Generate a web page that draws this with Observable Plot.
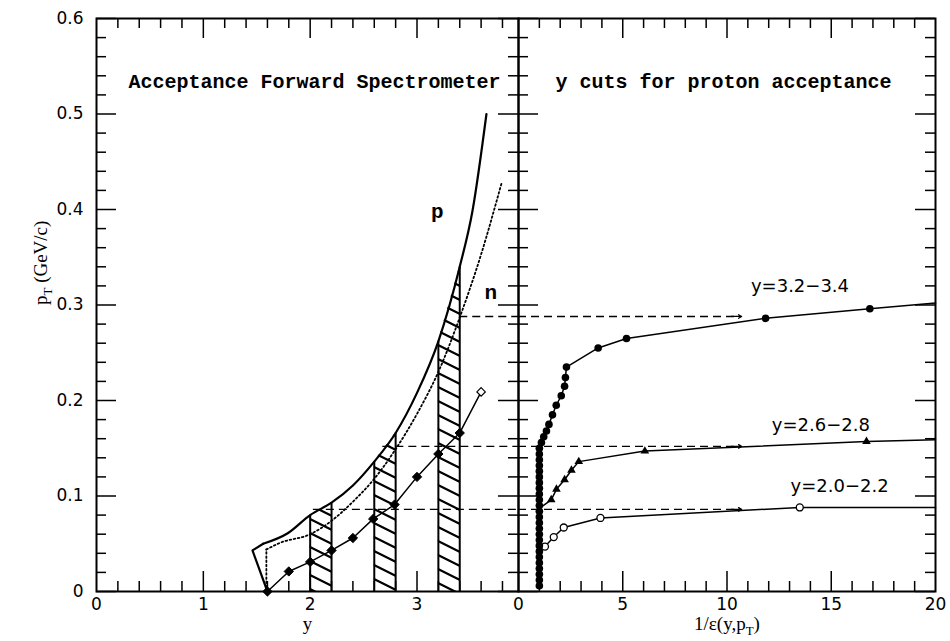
<!DOCTYPE html>
<html><head><meta charset="utf-8">
<script src="https://cdn.jsdelivr.net/npm/d3@7"></script>
<script src="https://cdn.jsdelivr.net/npm/@observablehq/plot@0.6"></script>
<style>
body{margin:0;background:#fff;}
#wrap{position:relative;width:950px;height:641px;overflow:hidden;background:#fff;}
#wrap svg{position:absolute;top:0;overflow:visible;}
</style></head><body><div id="wrap"></div>
<script>
// ---------- DATA ----------
// Left panel: proton acceptance boundary (solid), neutron (dotted), lower limit (diamonds)
const pEdgeY   = [1.60, 1.46, 1.56];
const pEdgePt  = [0.000, 0.043, 0.050];
const pCurveY  = [1.56, 1.79, 2.00, 2.20, 2.40, 2.60, 2.80, 3.00, 3.20, 3.40, 3.52, 3.65];
const pCurvePt = [0.050, 0.061, 0.080, 0.093, 0.111, 0.136, 0.166, 0.208, 0.262, 0.340, 0.399, 0.500];
const nEdgeY   = [1.59, 1.59];
const nEdgePt  = [0.000, 0.044];
const nCurveY  = [1.59, 1.72, 2.00, 2.20, 2.40, 2.60, 2.80, 3.00, 3.20, 3.40, 3.60, 3.79];
const nCurvePt = [0.044, 0.051, 0.060, 0.074, 0.094, 0.118, 0.149, 0.186, 0.230, 0.287, 0.353, 0.427];
const lowY  = [1.60, 1.80, 2.00, 2.20, 2.40, 2.59, 2.79, 3.00, 3.20, 3.40, 3.60];
const lowPt = [0.000, 0.021, 0.031, 0.043, 0.056, 0.076, 0.091, 0.120, 0.144, 0.166, 0.209];
// hatched y-cut bands
const bandLo = [2.0, 2.6, 3.2];
const bandHi = [2.2, 2.8, 3.4];
const bandTopLo = [0.080, 0.136, 0.262];
const bandTopHi = [0.093, 0.166, 0.340];
// dashed pT cut lines
const cutLevels = [0.288, 0.152, 0.086];
const cutStart = [3.40, 2.68, 2.03];
const cutArrowEnd = 10.7;
// curve labels
const curveNames = ["p", "n"];
const curveNameY = [3.19, 3.69];
const curveNamePt = [0.398, 0.313];
// Right panel series: 1/eps vs pT
const inv32 = [1,1,1,1,1,1,1,1,1,1,1,1,1,1,1,1,1,1,1,1,1,1,1,1,1,1.10,1.21,1.34,1.46,1.63,1.81,2.05,2.21,2.25,2.30,3.82,5.18,11.85,16.85,20];
const pt32  = [0.006,0.012,0.018,0.024,0.030,0.036,0.042,0.048,0.054,0.060,0.066,0.072,0.078,0.084,0.090,0.096,0.102,0.108,0.114,0.120,0.126,0.132,0.138,0.144,0.150,0.156,0.162,0.168,0.175,0.185,0.195,0.205,0.215,0.224,0.235,0.255,0.265,0.286,0.296,0.302];
const inv26 = [1.0, 1.57, 1.82, 2.21, 2.54, 2.89, 6.06, 16.69, 20];
const pt26  = [0.087, 0.096, 0.107, 0.117, 0.127, 0.136, 0.147, 0.157, 0.159];
const inv20 = [1.0, 1.27, 1.69, 2.17, 3.93, 13.49, 20];
const pt20  = [0.045, 0.047, 0.057, 0.067, 0.077, 0.088, 0.088];
const seriesLabels = ["y=3.2\u22123.4", "y=2.6\u22122.8", "y=2.0\u22122.2"];
const seriesLabelX = [13.5, 14.5, 15.4];
const seriesLabelPt = [0.320, 0.174, 0.110];
// axes
const leftXTicks = [0, 1, 2, 3];
const rightXTicks = [0, 5, 10, 15, 20];
const yTicks = [0, 0.1, 0.2, 0.3, 0.4, 0.5, 0.6];
const leftTitle = "Acceptance Forward Spectrometer";
const rightTitle = "y cuts for proton acceptance";

// ---------- LAYOUT ----------
const H = 641, mT = 18, mB = 50;
const innerH = H - mT - mB;
const W1 = 520, mL1 = 96, mR1 = 2, innerW1 = W1 - mL1 - mR1;
const W2 = 434, mL2 = 2, mR2 = 15, innerW2 = W2 - mL2 - mR2;
const X1MAX = 3.95, X2MAX = 20, YMAX = 0.6;
const tMin = 10, tMaj = 20;
const SANS = "DejaVu Sans", SERIF = "Liberation Serif", MONO = "Liberation Mono";

const yMinor = d3.range(1, 30).filter(i => i % 5).map(i => i / 50);
const xMinorL = d3.range(1, 20).filter(i => i % 5).map(i => i / 5);
const xMajorL = [1, 2, 3];
const xMinorR = d3.range(1, 20).filter(i => i % 5);
const xMajorR = [5, 10, 15];

const zip = (xs, ys) => xs.map((x, i) => ({x, y: ys[i]}));
const pEdgeRows = zip(pEdgeY, pEdgePt), pRows = zip(pCurveY, pCurvePt);
const nEdgeRows = zip(nEdgeY, nEdgePt), nRows = zip(nCurveY, nCurvePt), lowRows = zip(lowY, lowPt);
const bandRows = bandLo.flatMap((lo, i) => [{b: i, x: lo, top: bandTopLo[i]}, {b: i, x: bandHi[i], top: bandTopHi[i]}]);
const s32 = zip(inv32, pt32), s26 = zip(inv26, pt26), s20 = zip(inv20, pt20);

function hatchDefs() {
  const ns = "http://www.w3.org/2000/svg";
  const defs = document.createElementNS(ns, "defs");
  const pat = document.createElementNS(ns, "pattern");
  pat.setAttribute("id", "hatch");
  pat.setAttribute("patternUnits", "userSpaceOnUse");
  pat.setAttribute("width", 28); pat.setAttribute("height", 14);
  const path = document.createElementNS(ns, "path");
  path.setAttribute("d", "M-28,-14L56,28M-28,0L28,28M0,-14L56,14");
  path.setAttribute("stroke", "#000"); path.setAttribute("stroke-width", "2.2"); path.setAttribute("fill", "none");
  pat.appendChild(path); defs.appendChild(pat);
  return defs;
}

// inward frame ticks drawn as short rules (tick lengths converted from px to data units)
function frameTicks(xMinor, xMajor, innerW, xMax) {
  const ky = YMAX / innerH, kx = xMax / innerW;
  const vx = [...xMinor.map(x => ({x, len: tMin * ky})), ...xMajor.map(x => ({x, len: tMaj * ky}))];
  const vRows = vx.flatMap(d => [{x: d.x, y1: 0, y2: d.len}, {x: d.x, y1: YMAX, y2: YMAX - d.len}]);
  const hy = [...yMinor.map(y => ({y, len: tMin * kx})), ...yTicks.map(y => ({y, len: tMaj * kx}))];
  const hRows = hy.flatMap(d => [{y: d.y, x1: 0, x2: d.len}, {y: d.y, x1: xMax, x2: xMax - d.len}]);
  return [
    Plot.ruleX(vRows, {x: "x", y1: "y1", y2: "y2", stroke: "#000", strokeWidth: 1.5}),
    Plot.ruleY(hRows, {y: "y", x1: "x1", x2: "x2", stroke: "#000", strokeWidth: 1.5}),
    Plot.frame({stroke: "#000", strokeWidth: 2})
  ];
}

const common = {
  height: H, marginTop: mT, marginBottom: mB,
  style: {background: "transparent", overflow: "visible", fontFamily: SANS, fontSize: "17px", color: "#000"}
};

const left = Plot.plot({
  ...common, width: W1, marginLeft: mL1, marginRight: mR1,
  x: {domain: [0, X1MAX], ticks: leftXTicks, tickSize: 0, tickPadding: 6, label: null, tickFormat: d => String(d)},
  y: {domain: [0, YMAX], ticks: yTicks, tickSize: 0, tickPadding: 13, label: null,
      tickFormat: d => d === 0 ? "0" : d.toFixed(1)},
  marks: [
    hatchDefs,
    Plot.areaY(bandRows, {x: "x", y1: 0, y2: "top", z: "b", fill: "url(#hatch)"}),
    Plot.ruleX(bandRows, {x: "x", y1: 0, y2: "top", strokeWidth: 2}),
    Plot.ruleY(cutLevels, {y: d => d, x1: (d, i) => cutStart[i], x2: () => X1MAX, strokeDasharray: "8,5", strokeWidth: 1.4}),
    Plot.line(nEdgeRows, {x: "x", y: "y", strokeWidth: 1.8, strokeDasharray: "1.6,2.6"}),
    Plot.line(nRows, {x: "x", y: "y", strokeWidth: 1.8, strokeDasharray: "1.6,2.6", curve: "monotone-x"}),
    Plot.line(pEdgeRows, {x: "x", y: "y", strokeWidth: 2.2}),
    Plot.line(pRows, {x: "x", y: "y", strokeWidth: 2.2, curve: "monotone-x"}),
    Plot.line(lowRows, {x: "x", y: "y", strokeWidth: 1.5}),
    Plot.dot(lowRows.slice(0, -1), {x: "x", y: "y", symbol: "diamond2", r: 4.2, fill: "#000", stroke: "#000", strokeWidth: 1}),
    Plot.dot(lowRows.slice(-1), {x: "x", y: "y", symbol: "diamond2", r: 3.8, fill: "#fff", stroke: "#000", strokeWidth: 1.2}),
    Plot.text(curveNames, {x: (d, i) => curveNameY[i], y: (d, i) => curveNamePt[i], text: d => d,
      fontFamily: MONO, fontWeight: "bold", fontSize: 21}),
    ...frameTicks(xMinorL, xMajorL, innerW1, X1MAX),
    Plot.text([leftTitle], {frameAnchor: "top", dx: 7, dy: 55, text: d => d, fontFamily: MONO, fontWeight: "bold", fontSize: 20}),
    Plot.text(["p_T (GeV/c)"], {frameAnchor: "left", dx: -56, rotate: -90, text: d => d, fontFamily: SERIF, fontSize: 19}),
    Plot.text(["y"], {frameAnchor: "bottom", dy: 38, text: d => d, fontFamily: SERIF, fontSize: 19})
  ]
});

const right = Plot.plot({
  ...common, width: W2, marginLeft: mL2, marginRight: mR2,
  x: {domain: [0, X2MAX], ticks: rightXTicks, tickSize: 0, tickPadding: 6, label: null, tickFormat: d => String(d)},
  y: {domain: [0, YMAX], axis: null},
  marks: [
    Plot.ruleY(cutLevels, {y: d => d, x1: () => 0, x2: () => cutArrowEnd - 0.15, strokeDasharray: "8,5", strokeWidth: 1.4}),
    Plot.arrow(cutLevels, {x1: () => cutArrowEnd - 0.5, x2: () => cutArrowEnd, y1: d => d, y2: d => d, headLength: 7, strokeWidth: 1.3}),
    Plot.line(s20, {x: "x", y: "y", strokeWidth: 1.5}),
    Plot.line(s26, {x: "x", y: "y", strokeWidth: 1.5}),
    Plot.line(s32, {x: "x", y: "y", strokeWidth: 1.5}),
    Plot.dot(s20.slice(1, -1), {x: "x", y: "y", r: 3.5, fill: "#fff", stroke: "#000", strokeWidth: 1.3}),
    Plot.dot(s26.slice(1, -1), {x: "x", y: "y", symbol: "triangle", r: 3.2, fill: "#000"}),
    Plot.dot(s32.slice(0, -1), {x: "x", y: "y", r: 3.8, fill: "#000"}),
    Plot.text(seriesLabels, {x: (d, i) => seriesLabelX[i], y: (d, i) => seriesLabelPt[i], text: d => d, fontFamily: SANS, fontSize: 18}),
    ...frameTicks(xMinorR, xMajorR, innerW2, X2MAX),
    Plot.text([rightTitle], {frameAnchor: "top", dx: -3.5, dy: 55, text: d => d, fontFamily: MONO, fontWeight: "bold", fontSize: 20}),
    Plot.text(["1/\u03B5(y,p_T)"], {frameAnchor: "bottom", dy: 38, text: d => d, fontFamily: SERIF, fontSize: 19})
  ]
});

function subscripts(svg) {
  const ns = "http://www.w3.org/2000/svg";
  svg.querySelectorAll("text").forEach(t => {
    const s = t.textContent;
    if (!s.includes("_T")) return;
    const [a, b] = s.split("_T");
    while (t.firstChild) t.removeChild(t.firstChild);
    const t1 = document.createElementNS(ns, "tspan"); t1.textContent = a;
    const t2 = document.createElementNS(ns, "tspan"); t2.textContent = "T";
    t2.setAttribute("font-size", "0.68em"); t2.setAttribute("dy", "5");
    const t3 = document.createElementNS(ns, "tspan"); t3.textContent = b; t3.setAttribute("dy", "-5");
    t.append(t1, t2, t3);
  });
}
subscripts(left); subscripts(right);

left.style.left = "0px";
right.style.left = (mL1 + innerW1 - mL2) + "px";
const wrap = document.getElementById("wrap");
wrap.append(left, right);
</script></body></html>
